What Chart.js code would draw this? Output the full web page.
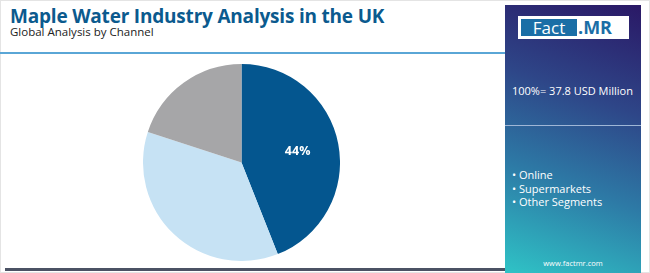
<!DOCTYPE html>
<html>
<head>
<meta charset="utf-8">
<script src="https://cdn.jsdelivr.net/npm/chart.js@4"></script>
<style>
  html, body { margin: 0; padding: 0; }
  body { width: 650px; height: 273px; position: relative; overflow: hidden; background: #fff; font-family: "Open Sans", sans-serif; }
  .frame { position: absolute; left: 0; top: 0; width: 648px; height: 271px; border: 1px solid #e4e4e4; }
  .title { position: absolute; left: 10px; top: 3px; font-size: 19px; font-weight: 700; color: #0b5a8e; letter-spacing: -0.2px; white-space: nowrap; }
  .subtitle { position: absolute; left: 10px; top: 24px; font-size: 11.5px; color: #222; white-space: nowrap; }
  .topline { position: absolute; left: 0; top: 52px; width: 506px; height: 2px; background: #5aa6d6; }
  .bottomline { position: absolute; left: 5px; top: 268px; width: 505px; height: 3px; background: #4b5264; }
  .panel { position: absolute; left: 505px; top: 5px; width: 136px; height: 268px;
    background: linear-gradient(20deg, #2fc3c6 0%, #2d7aa6 35%, #2e4688 65%, #2a1866 100%); }
  .logo { position: absolute; left: 13px; top: 11px; width: 111px; height: 23px; background: #fff; }
  .logo .fact { position: absolute; left: 3px; top: 3px; width: 56px; height: 17px; background: #1a6ea6; color: #fff; font-size: 17px; line-height: 17px; text-align: center; }
  .logo .mr { position: absolute; left: 60px; top: 0px; color: #1a6ea6; font-size: 18px; font-weight: 700; line-height: 22px; }
  .total { position: absolute; left: 7px; top: 78px; color: #fff; font-size: 11px; white-space: nowrap; }
  .divider { position: absolute; left: 0; top: 120px; width: 136px; height: 1px; background: #9fb6d6; }
  .legend { position: absolute; left: 7px; top: 163px; color: #fff; font-size: 11px; line-height: 13.5px; white-space: nowrap; }
  .site { position: absolute; left: 0; width: 136px; top: 253px; text-align: center; color: #fff; font-size: 7.5px; }
  #pie { position: absolute; left: 143px; top: 64px; }
</style>
</head>
<body>
<div class="frame"></div>
<div class="title">Maple Water Industry Analysis in the UK</div>
<div class="subtitle">Global Analysis by Channel</div>
<div class="topline"></div>
<div class="bottomline"></div>
<canvas id="pie" width="197" height="197"></canvas>
<div class="panel">
  <div class="logo"><div class="fact">Fact</div><div class="mr">.MR</div></div>
  <div class="total">100%= 37.8 USD Million</div>
  <div class="divider"></div>
  <div class="legend" id="legend"></div>
  <div class="site">www.factmr.com</div>
</div>
<script>
const channels = ['Online', 'Supermarkets', 'Other Segments'];
const shares = [44, 36, 20];
const sliceColors = ['#04568f', '#c6e2f4', '#a6a6a8'];
const labelledSlices = [0];

document.getElementById('legend').innerHTML = channels.map(c => '\u2022 ' + c).join('<br>');

// write the percent inside the chosen slices
const sliceLabels = {
  id: 'sliceLabels',
  afterDatasetsDraw(chart) {
    const ctx = chart.ctx;
    const meta = chart.getDatasetMeta(0);
    ctx.save();
    ctx.fillStyle = '#fff';
    ctx.font = 'bold 12.5px "Open Sans", sans-serif';
    ctx.textAlign = 'center';
    ctx.textBaseline = 'middle';
    labelledSlices.forEach(i => {
      const arc = meta.data[i];
      const mid = (arc.startAngle + arc.endAngle) / 2;
      const r = arc.outerRadius * 0.58;
      ctx.fillText(shares[i] + '%', arc.x + Math.cos(mid) * r, arc.y + Math.sin(mid) * r);
    });
    ctx.restore();
  }
};

new Chart(document.getElementById('pie'), {
  type: 'pie',
  data: {
    labels: channels,
    datasets: [{
      data: shares,
      backgroundColor: sliceColors,
      borderWidth: 0
    }]
  },
  options: {
    responsive: false,
    animation: false,
    layout: { padding: 0 },
    plugins: { legend: { display: false }, tooltip: { enabled: false } }
  },
  plugins: [sliceLabels]
});
</script>
</body>
</html>
